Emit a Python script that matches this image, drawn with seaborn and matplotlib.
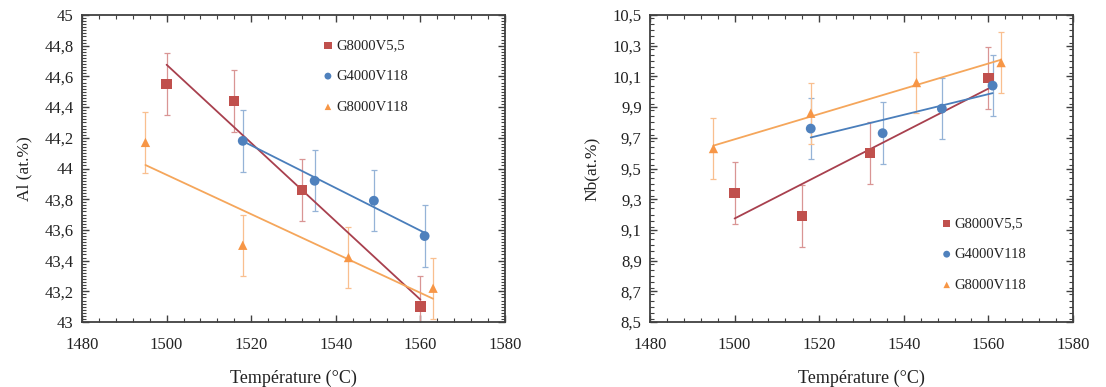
import numpy as np
import pandas as pd
import matplotlib
matplotlib.use("Agg")
import matplotlib.pyplot as plt
from matplotlib.ticker import MultipleLocator, FuncFormatter
import seaborn as sns

sns.set_theme(style="white")
plt.rcParams['font.family'] = ['Liberation Serif', 'DejaVu Serif']

series = ["G8000V5,5", "G4000V118", "G8000V118"]

# Temperatures (°C)
t_red = [1500, 1516, 1532, 1560]
t_blue = [1518, 1535, 1549, 1561]
t_orange = [1495, 1518, 1543, 1563]

# Al (at.%)
al_red = [44.55, 44.44, 43.86, 43.10]
al_blue = [44.18, 43.92, 43.79, 43.56]
al_orange = [44.17, 43.50, 43.42, 43.22]

# Nb (at.%)
nb_red = [9.34, 9.19, 9.60, 10.09]
nb_blue = [9.76, 9.73, 9.89, 10.04]
nb_orange = [9.63, 9.86, 10.06, 10.19]

err = 0.2

x_ticks = [1480, 1500, 1520, 1540, 1560, 1580]
al_ticks = [43, 43.2, 43.4, 43.6, 43.8, 44, 44.2, 44.4, 44.6, 44.8, 45]
nb_ticks = [8.5, 8.7, 8.9, 9.1, 9.3, 9.5, 9.7, 9.9, 10.1, 10.3, 10.5]

pt_colors = ["#C0504D", "#4F81BD", "#F79646"]
line_colors = ["#A8404E", "#4A7EBB", "#F5A65B"]
err_colors = ["#D99594", "#95B3D7", "#F9BF8F"]
markers = ["s", "o", "^"]
msizes = [55, 50, 45]

fig = plt.figure(figsize=(11.06, 3.87), dpi=100)
ax1 = fig.add_axes([82/1106, 65/387, 423/1106, 307/387])
ax2 = fig.add_axes([650/1106, 65/387, 423/1106, 307/387])


def fmt_al(v, pos):
    s = f"{v:.1f}"
    if s.endswith(".0"):
        s = s[:-2]
    return s.replace(".", ",")


def fmt_nb(v, pos):
    return f"{v:.1f}".replace(".", ",")


def draw(ax, ys, ylab, yticks, fmt, leg_anchor):
    ts = [t_red, t_blue, t_orange]
    for i, (t, y) in enumerate(zip(ts, ys)):
        ax.errorbar(t, y, yerr=err, fmt="none", ecolor=err_colors[i],
                    elinewidth=0.9, capsize=2, capthick=0.9, zorder=1)
        df = pd.DataFrame({"T": t, "v": y})
        sns.regplot(data=df, x="T", y="v", ax=ax, scatter=False, ci=None,
                    truncate=True, color=line_colors[i],
                    line_kws=dict(lw=1.3, zorder=2))
    for i, (t, y) in enumerate(zip(ts, ys)):
        df = pd.DataFrame({"T": t, "v": y})
        sns.scatterplot(data=df, x="T", y="v", ax=ax, marker=markers[i],
                        s=msizes[i], color=pt_colors[i], edgecolor="none",
                        label=series[i], zorder=3)
    ax.set_xlim(x_ticks[0], x_ticks[-1])
    ax.set_ylim(yticks[0], yticks[-1])
    ax.set_xticks(x_ticks)
    ax.set_yticks(yticks)
    ax.xaxis.set_minor_locator(MultipleLocator(4))
    ax.yaxis.set_minor_locator(MultipleLocator(0.02 if yticks[0] > 20 else 0.04))
    ax.yaxis.set_major_formatter(FuncFormatter(fmt))
    ax.tick_params(which="both", direction="in", top=True, right=True,
                   bottom=True, left=True, color="#404040", labelsize=12,
                   labelcolor="#222222")
    ax.tick_params(which="major", length=5, width=1)
    ax.tick_params(which="minor", length=3, width=0.8)
    ax.tick_params(axis="x", pad=11)
    ax.tick_params(axis="y", pad=6)
    for sp in ax.spines.values():
        sp.set_color("#404040")
        sp.set_linewidth(1.3)
    ax.set_xlabel("Température (°C)", fontsize=13, color="#222222", labelpad=12)
    ax.set_ylabel(ylab, fontsize=12.5, color="#222222", labelpad=9)
    leg = ax.legend(loc="upper left", bbox_to_anchor=leg_anchor, frameon=False,
                    fontsize=10.5, labelspacing=1.2, handletextpad=0.05,
                    handlelength=1.0, markerscale=0.7, borderpad=0.2)
    for txt in leg.get_texts():
        txt.set_color("#222222")


draw(ax1, [al_red, al_blue, al_orange], "Al (at.%)", al_ticks, fmt_al, (0.54, 0.955))
draw(ax2, [nb_red, nb_blue, nb_orange], "Nb(at.%)", nb_ticks, fmt_nb, (0.66, 0.375))

fig.savefig("out.png", dpi=100)
